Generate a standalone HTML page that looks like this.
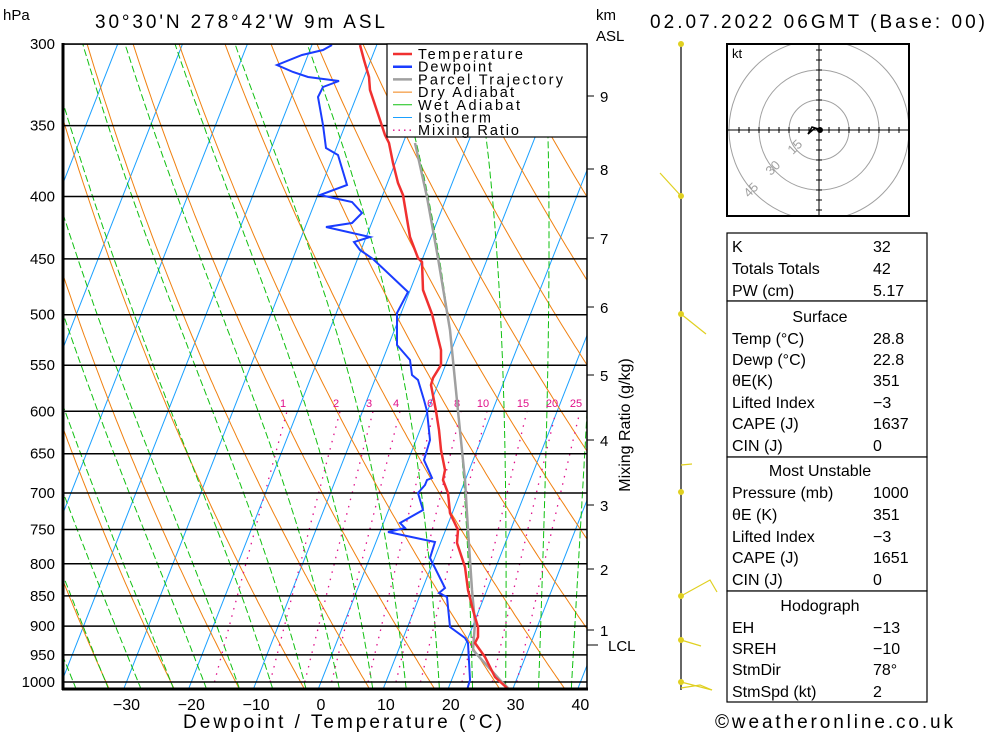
<!DOCTYPE html>
<html><head><meta charset="utf-8"><style>
body{margin:0;background:#fff;width:1000px;height:733px;overflow:hidden;font-family:"Liberation Sans","DejaVu Sans",sans-serif}
svg text{font-family:"Liberation Sans","DejaVu Sans",sans-serif}
</style></head><body>
<svg id="s" width="1000" height="733" viewBox="0 0 1000 733" xmlns="http://www.w3.org/2000/svg">
<defs><clipPath id="pc"><rect x="63" y="44" width="524" height="645"/></clipPath></defs>
<g id="bg" clip-path="url(#pc)"></g>
<g id="fg"></g>
<text x="3" y="20" font-size="15">hPa</text>
<text x="95" y="28" font-size="19" textLength="290" lengthAdjust="spacing">30°30'N  278°42'W  9m  ASL</text>
<text x="596" y="20" font-size="15">km</text>
<text x="596" y="41" font-size="15">ASL</text>
<text x="650" y="28" font-size="19" textLength="335" lengthAdjust="spacing">02.07.2022  06GMT  (Base: 00)</text>
<text x="183" y="728" font-size="19" textLength="319" lengthAdjust="spacing">Dewpoint / Temperature (°C)</text>
<text x="715" y="728" font-size="19" textLength="238" lengthAdjust="spacing">©weatheronline.co.uk</text>
<text transform="translate(630,425) rotate(-90)" font-size="16" text-anchor="middle">Mixing Ratio (g/kg)</text>
</svg>
<script>
const NS="http://www.w3.org/2000/svg";
const bg=document.getElementById('bg'),fg=document.getElementById('fg'),S=document.getElementById('s');
function el(p,t,a,txt){const e=document.createElementNS(NS,t);for(const k in a)e.setAttribute(k,a[k]);if(txt!==undefined)e.textContent=txt;p.appendChild(e);return e;}
const Y=p=>44+Math.log(p/300)/Math.log(1000/300)*638;
const X=(T,p)=>321+6.486*T+0.393*(682-Y(p));
function path(pts){return 'M'+pts.map(q=>q[0].toFixed(1)+','+q[1].toFixed(1)).join('L');}
const ps=[];for(let p=1050;p>=290;p-=5)ps.push(p);
for(let T=-120;T<=50;T+=10){el(bg,'path',{d:path([[X(T,1050),Y(1050)],[X(T,290),Y(290)]]),stroke:'#1aa0ff','stroke-width':1,fill:'none'});}
for(let th=230;th<=480;th+=10){const pts=ps.map(p=>[X(th*Math.pow(p/1000,0.286)-273.15,p),Y(p)]);el(bg,'path',{d:path(pts),stroke:'#f08010','stroke-width':1,fill:'none'});}
function es(T){return 6.112*Math.exp(17.67*T/(T+243.5));}
for(let T0=-40;T0<=45;T0+=5){let T=T0+273.15,pts=[];for(let p=1050;p>=290;p-=2){pts.push([X(T-273.15,p),Y(p)]);const e=es(T-273.15),rs=0.622*e/(p-e);const dT=(287*T+2.5e6*rs)/(p*(1004+2.5e6*2.5e6*rs*0.622/(287*T*T)));T-=dT*2;}
el(bg,'path',{d:path(pts),stroke:'#10c010','stroke-width':1,fill:'none','stroke-dasharray':'7 3'});}
const ws=[1,2,3,4,6,8,10,15,20,25];
const labx={1:283,2:336,3:369,4:396,6:430,8:457,10:483,15:523,20:552,25:576};
function Td(w,p){const e=w*p/(622+w),l=Math.log(e/6.112);return 243.5*l/(17.67-l);}
for(const w of ws){const off=labx[w]+4-X(Td(w,600),600);const pts=[];for(let p=1000;p>=600;p-=10){const f=(Y(p)-Y(1000))/(Y(600)-Y(1000));pts.push([X(Td(w,p),p)+off*(0.5+0.5*f),Y(p)]);}
el(bg,'path',{d:path(pts),stroke:'#e0108a','stroke-width':1.3,fill:'none','stroke-dasharray':'1.5 6'});
el(bg,'text',{x:labx[w],y:407,'font-size':11,fill:'#e0108a','text-anchor':'middle'},w);}
const lv=[300,350,400,450,500,550,600,650,700,750,800,850,900,950,1000];
for(const p of lv){el(bg,'line',{x1:63,x2:587,y1:Y(p),y2:Y(p),stroke:'#000','stroke-width':1.5});
el(fg,'text',{x:55,y:Y(p)+5,'font-size':15,'text-anchor':'end'},p);}
const parcel=[[508,688],[500,680],[473,650],[475,623],[472,590],[468,530],[465,480],[458,411],[450,330],[438,258],[427,197],[415,143]];
const temp=[[360,45],[364,60],[369,77],[370,90],[375,105],[380,120],[385,135],[389,143],[393,163],[398,183],[403,195],[410,237],[418,258],[422,262],[423,290],[432,314],[441,350],[441,365],[433,378],[431,385],[436,411],[439,430],[441,450],[445,470],[443,480],[448,493],[450,513],[458,530],[457,543],[465,567],[468,590],[473,610],[478,627],[478,637],[475,643],[485,657],[495,677],[507,688]];
const dew=[[332,45],[323,50],[302,55],[277,65],[293,72],[308,77],[339,81],[323,87],[318,97],[323,125],[326,148],[338,155],[347,185],[320,195],[352,202],[362,213],[352,223],[326,227],[370,237],[354,242],[360,250],[373,259],[408,292],[397,313],[397,345],[410,360],[412,375],[418,380],[424,400],[427,411],[430,440],[424,460],[432,478],[427,480],[425,485],[418,493],[423,510],[400,523],[405,528],[388,532],[435,542],[430,558],[445,588],[439,593],[447,597],[450,627],[465,638],[468,643],[470,680],[467,690]];
el(fg,'path',{d:path(parcel),stroke:'#a0a0a0','stroke-width':2.5,fill:'none'});
el(fg,'path',{d:path(temp),stroke:'#f03030','stroke-width':2.5,fill:'none'});
el(fg,'path',{d:path(dew),stroke:'#1a3cff','stroke-width':2,fill:'none'});
el(fg,'rect',{x:63,y:44,width:524,height:645,fill:'none',stroke:'#000','stroke-width':1.5});
el(fg,'line',{x1:63,x2:63,y1:43,y2:690,stroke:'#000','stroke-width':3});
el(fg,'line',{x1:62,x2:588,y1:689,y2:689,stroke:'#000','stroke-width':3});
for(let T=-30;T<=40;T+=10){el(fg,'text',{x:321+6.486*T,y:710,'font-size':16,'text-anchor':'middle'},T<0?'\u2212'+(-T):T);}
const lg=el(fg,'g',{});
el(lg,'rect',{x:387,y:44,width:200,height:93,fill:'#fff',stroke:'#000','stroke-width':1.2});
const li=[['Temperature','#f03030',2.5,'',105],['Dewpoint','#1a3cff',2.5,'',74],['Parcel Trajectory','#a0a0a0',2.5,'',145],['Dry Adiabat','#f08010',1,'',96],['Wet Adiabat','#10c010',1,'',102],['Isotherm','#1aa0ff',1,'',73],['Mixing Ratio','#e0108a',1.3,'1.5 4',101]];
li.forEach((a,i)=>{const y=54+i*12.7;el(lg,'line',{x1:393,x2:412,y1:y,y2:y,stroke:a[1],'stroke-width':a[2],'stroke-dasharray':a[3]});el(lg,'text',{x:418,y:y+5,'font-size':14.5,textLength:a[4],lengthAdjust:'spacing'},a[0]);});
[[9,96],[8,169],[7,238],[6,307],[5,375],[4,440],[3,505],[2,569],[1,630]].forEach(a=>{el(fg,'text',{x:600,y:a[1]+6,'font-size':15},a[0]);el(fg,'line',{x1:587,x2:594,y1:a[1],y2:a[1],stroke:'#000'});});
el(fg,'line',{x1:587,x2:598,y1:645,y2:645,stroke:'#000'});
el(fg,'text',{x:608,y:651,'font-size':15},'LCL');
el(fg,'line',{x1:681,x2:681,y1:44,y2:690,stroke:'#000','stroke-width':1.2});
const yc='#e0d020';
[44,196,314,492,596,640,682].forEach(y=>el(fg,'circle',{cx:681,cy:y,r:3,fill:yc}));
[[[681,196],[660,173]],[[681,314],[706,334]],[[681,465],[692,464]],[[681,596],[710,580],[717,592]],[[681,640],[701,646]],[[681,682],[712,690]],[[681,688],[700,685],[712,690]]].forEach(a=>el(fg,'path',{d:path(a),stroke:yc,'stroke-width':1.2,fill:'none'}));
const h=el(fg,'g',{});
el(h,'rect',{x:727,y:44,width:182,height:172,fill:'#fff',stroke:'#000','stroke-width':2});
const cp=el(h,'clipPath',{id:'hc'});el(cp,'rect',{x:728,y:45,width:180,height:170});
const hg=el(h,'g',{'clip-path':'url(#hc)'});
[30,60,90].forEach(r=>el(hg,'circle',{cx:819,cy:130,r:r,fill:'none',stroke:'#a0a0a0','stroke-width':1}));
el(h,'line',{x1:728,x2:908,y1:130,y2:130,stroke:'#000'});el(h,'line',{x1:819,x2:819,y1:45,y2:215,stroke:'#000'});
for(let d=-80;d<=80;d+=10){if(!d)continue;el(h,'line',{x1:819+d,x2:819+d,y1:127,y2:133,stroke:'#000'});el(h,'line',{x1:816,x2:822,y1:130+d,y2:130+d,stroke:'#000'});}
el(h,'text',{x:732,y:58,'font-size':13},'kt');
[['15',798,150],['30',776,171],['45',754,193]].forEach(a=>el(h,'text',{x:a[1],y:a[2],'font-size':13,fill:'#a0a0a0',transform:`rotate(-45 ${a[1]} ${a[2]})`,'text-anchor':'middle'},a[0]));
el(h,'path',{d:'M822,130L812,127L808,134L815,128L819,130',stroke:'#000','stroke-width':1.5,fill:'none'});
el(h,'circle',{cx:820,cy:130,r:3,fill:'#000'});
const t=el(fg,'g',{});
const rows=[['K','32',246],['Totals Totals','42',268],['PW (cm)','5.17',290],['','Surface',316],['Temp (°C)','28.8',338],['Dewp (°C)','22.8',359],['θE(K)','351',380],['Lifted Index','\u22123',402],['CAPE (J)','1637',423],['CIN (J)','0',445],['','Most Unstable',470],['Pressure (mb)','1000',492],['θE (K)','351',514],['Lifted Index','\u22123',536],['CAPE (J)','1651',557],['CIN (J)','0',579],['','Hodograph',605],['EH','\u221213',627],['SREH','\u221210',648],['StmDir','78°',669],['StmSpd (kt)','2',691]];
[[233,301],[301,457],[457,591],[591,702]].forEach(b=>el(t,'rect',{x:727,y:b[0],width:200,height:b[1]-b[0],fill:'#fff',stroke:'#000','stroke-width':1.2}));
rows.forEach(r=>{if(!r[0])el(t,'text',{x:820,y:r[2]+6,'font-size':16,'text-anchor':'middle'},r[1]);else{el(t,'text',{x:732,y:r[2]+6,'font-size':16},r[0]);el(t,'text',{x:873,y:r[2]+6,'font-size':16},r[1]);}});
</script>
</body></html>
